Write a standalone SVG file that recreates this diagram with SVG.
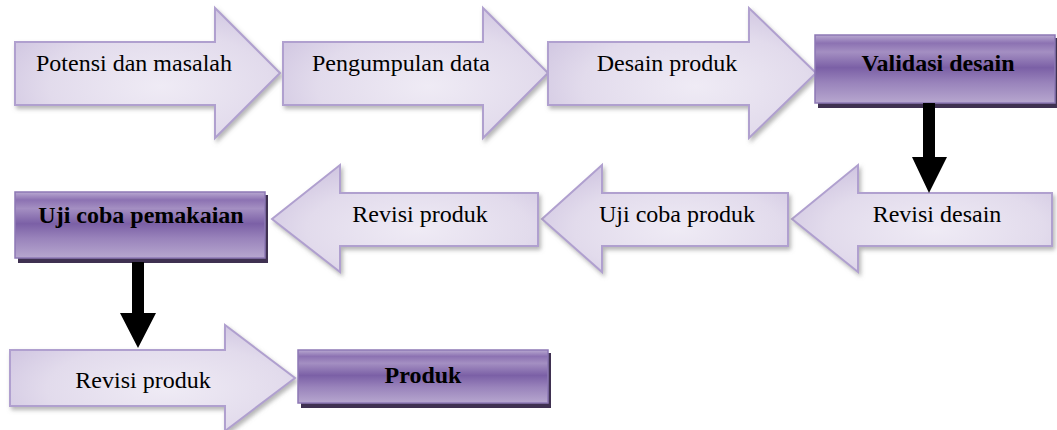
<svg xmlns="http://www.w3.org/2000/svg" width="1057" height="430" viewBox="0 0 1057 430">
  <defs>
    <radialGradient id="light" cx="0.55" cy="0.6" r="0.7">
      <stop offset="0" stop-color="#efebf5"/>
      <stop offset="0.6" stop-color="#e2dbec"/>
      <stop offset="1" stop-color="#cdc2df"/>
    </radialGradient>
    <linearGradient id="dark" x1="0" y1="0" x2="0" y2="1">
      <stop offset="0" stop-color="#b9a9d1"/>
      <stop offset="0.12" stop-color="#8c72b2"/>
      <stop offset="0.25" stop-color="#a48fc2"/>
      <stop offset="0.48" stop-color="#7b60a6"/>
      <stop offset="0.7" stop-color="#9983bb"/>
      <stop offset="1" stop-color="#b7a7cf"/>
    </linearGradient>
    <filter id="shadow" x="-10%" y="-10%" width="125%" height="130%">
      <feDropShadow dx="2" dy="3" stdDeviation="2" flood-color="#7a7a7a" flood-opacity="0.55"/>
    </filter>
  </defs>
  <style>
    .arrow { fill: url(#light); stroke: #b0a0cf; stroke-width: 2; filter: url(#shadow); }
    .box { fill: url(#dark); stroke: #8d78b5; stroke-width: 1.5; }
    .boxshadow { fill: #3f3151; }
    .t { font-family: "Liberation Serif", Tinos, "Times New Roman", "DejaVu Serif", serif; font-size: 24px; fill: #000; text-anchor: middle; }
    .b { font-weight: bold; }
    .conn { fill: #000; }
  </style>

  <g id="n1">
    <polygon class="arrow" points="15,42 215,42 215,8 280,73 215,138 215,105 15,105"/>
    <text class="t" font-family="Liberation Serif, serif" x="134" y="71">Potensi dan masalah</text>
  </g>
  <g id="n2">
    <polygon class="arrow" points="283,42 483,42 483,8 548,73 483,138 483,105 283,105"/>
    <text class="t" font-family="Liberation Serif, serif" x="401" y="71">Pengumpulan data</text>
  </g>
  <g id="n3">
    <polygon class="arrow" points="548,42 749,42 749,8 816,73 749,138 749,105 548,105"/>
    <text class="t" font-family="Liberation Serif, serif" x="667" y="71">Desain produk</text>
  </g>
  <g id="n4">
    <rect class="boxshadow" x="818" y="38" width="240" height="70"/>
    <rect class="box" x="815" y="35" width="240" height="68"/>
    <text class="t b" font-family="Liberation Serif, serif" x="938" y="71">Validasi desain</text>
  </g>

  <g id="n5">
    <polygon class="arrow" points="1052,193 858,193 858,165 792,219 858,272 858,246 1052,246"/>
    <text class="t" font-family="Liberation Serif, serif" x="937" y="222">Revisi desain</text>
  </g>
  <g id="n6">
    <polygon class="arrow" points="788,193 602,193 602,165 542,219 602,272 602,246 788,246"/>
    <text class="t" font-family="Liberation Serif, serif" x="677" y="222">Uji coba produk</text>
  </g>
  <g id="n7">
    <polygon class="arrow" points="538,193 340,193 340,165 272,219 340,272 340,246 538,246"/>
    <text class="t" font-family="Liberation Serif, serif" x="420" y="222">Revisi produk</text>
  </g>
  <g id="n8">
    <rect class="boxshadow" x="18" y="195" width="250" height="68"/>
    <rect class="box" x="15" y="192" width="250" height="66"/>
    <text class="t b" font-family="Liberation Serif, serif" x="141" y="223">Uji coba pemakaian</text>
  </g>

  <g id="n9">
    <polygon class="arrow" points="10,350 225,350 225,325 295,378 225,431 225,406 10,406"/>
    <text class="t" font-family="Liberation Serif, serif" x="143" y="388">Revisi produk</text>
  </g>
  <g id="n10">
    <rect class="boxshadow" x="301" y="353" width="250" height="55"/>
    <rect class="box" x="298" y="350" width="250" height="53"/>
    <text class="t b" font-family="Liberation Serif, serif" x="423" y="383">Produk</text>
  </g>

  <g id="connectors">
    <polygon class="conn" points="923,103 935,103 935,157 947,157 929,193 912,157 923,157"/>
    <polygon class="conn" points="132,262 144,262 144,313 156,313 138,348 120,313 132,313"/>
  </g>
</svg>
